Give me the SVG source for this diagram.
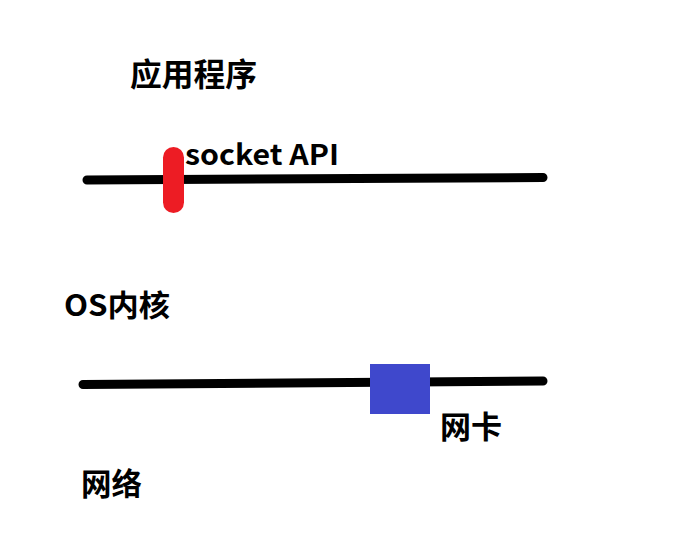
<svg xmlns="http://www.w3.org/2000/svg" width="681" height="535" viewBox="0 0 681 535">
<style>
.t{font-family:"Noto Sans CJK SC","Liberation Sans",sans-serif;font-weight:bold;fill:#000}
.ln{stroke:#000;stroke-width:9;stroke-linecap:round;fill:none}
</style>
<rect width="681" height="535" fill="#fff"/>
<g id="connectors">
<path class="ln" d="M87 180 L543 177.5"/>
<path class="ln" d="M83 384.5 L543 381"/>
</g>
<g id="app"><text class="t" x="130" y="86" font-size="32" textLength="127" lengthAdjust="spacingAndGlyphs">应用程序</text></g>
<g id="socket">
<rect x="163" y="147" width="21" height="66" rx="10.5" fill="#ED1C24"/>
<text class="t" x="185" y="165" font-size="28" textLength="154" lengthAdjust="spacingAndGlyphs">socket API</text>
</g>
<g id="os"><text class="t" x="64" y="316" font-size="30" textLength="106" lengthAdjust="spacingAndGlyphs">OS内核</text></g>
<g id="nic">
<rect x="370" y="364" width="60" height="50" fill="#3F48CC"/>
<text class="t" x="440" y="438" font-size="31" textLength="62" lengthAdjust="spacingAndGlyphs">网卡</text>
</g>
<g id="net"><text class="t" x="81" y="495" font-size="31" textLength="61" lengthAdjust="spacingAndGlyphs">网络</text></g>
</svg>
